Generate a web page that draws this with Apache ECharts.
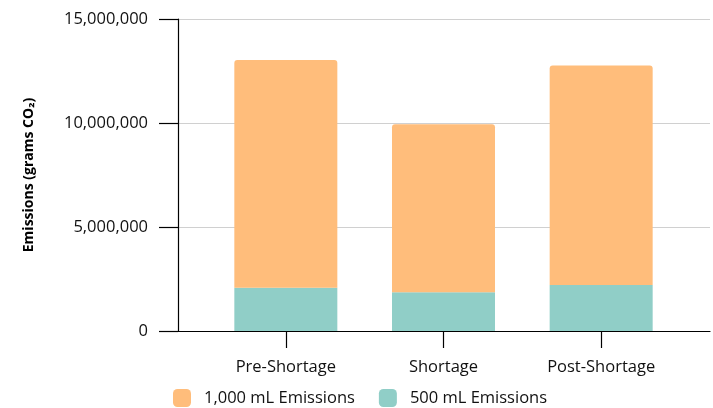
<!DOCTYPE html>
<html>
<head>
<meta charset="utf-8">
<script src="https://cdn.jsdelivr.net/npm/echarts@6/dist/echarts.min.js"></script>
<style>
  html, body { margin: 0; padding: 0; background: #fff; }
  #chart { width: 713px; height: 408px; }
</style>
</head>
<body>
<div id="chart"></div>
<script>
// Stacked emissions per period (grams CO2)
const categories = ['Pre-Shortage', 'Shortage', 'Post-Shortage'];
const emissions500 = [2080000, 1860000, 2210000];
const emissions1000 = [10950000, 8080000, 10550000];
const yTicks = { min: 0, max: 15000000, interval: 5000000 };

const FONT = '"Open Sans", "Noto Sans", sans-serif';
const ORANGE = '#FFBD7B';
const TEAL = '#90CEC7';
const TEXT = '#111';

const chart = echarts.init(document.getElementById('chart'), null, { renderer: 'canvas' });

chart.setOption({
  animation: false,
  backgroundColor: '#ffffff',
  textStyle: { fontFamily: FONT },
  grid: [
    { left: 178, right: 3, top: 19, bottom: 77 },
    { left: 207, right: 33, top: 19, bottom: 77 }
  ],
  legend: {
    left: 168,
    top: 384,
    icon: 'roundRect',
    itemWidth: 18,
    itemHeight: 18,
    itemGap: 24,
    textStyle: { fontFamily: FONT, fontSize: 16.5, color: TEXT, padding: [0, 0, 0, 8] },
    data: ['1,000 mL Emissions', '500 mL Emissions']
  },
  xAxis: [
    {
      gridIndex: 0,
      type: 'category',
      data: categories,
      axisLine: { show: true, lineStyle: { color: '#000', width: 1.2 } },
      axisTick: { show: false },
      axisLabel: { show: false },
      splitLine: { show: false }
    },
    {
      gridIndex: 1,
      type: 'category',
      data: categories,
      axisLine: { show: false },
      axisTick: { show: true, alignWithLabel: true, length: 17, lineStyle: { color: '#000', width: 1.2 } },
      axisLabel: { fontFamily: FONT, fontSize: 16.5, color: TEXT, margin: 28 }
    }
  ],
  yAxis: [
    {
      gridIndex: 0,
      type: 'value',
      min: yTicks.min,
      max: yTicks.max,
      interval: yTicks.interval,
      name: 'Emissions (grams CO₂)',
      nameLocation: 'middle',
      nameGap: 142,
      nameTextStyle: { fontFamily: FONT, fontSize: 14, fontWeight: 'bold', color: '#000' },
      axisLine: { show: true, lineStyle: { color: '#000', width: 1.2 } },
      axisTick: { show: true, length: 19, lineStyle: { color: '#000', width: 1.2 } },
      axisLabel: {
        fontFamily: FONT, fontSize: 16.5, color: TEXT, margin: 30,
        formatter: v => v.toLocaleString('en-US')
      },
      splitLine: { show: true, lineStyle: { color: '#d0d0d0', width: 1.2 } }
    },
    {
      gridIndex: 1,
      type: 'value',
      min: yTicks.min,
      max: yTicks.max,
      interval: yTicks.interval,
      show: false,
      splitLine: { show: false }
    }
  ],
  series: [
    {
      name: '500 mL Emissions',
      type: 'bar',
      stack: 'total',
      xAxisIndex: 1,
      yAxisIndex: 1,
      barWidth: 103,
      itemStyle: { color: TEAL },
      data: emissions500
    },
    {
      name: '1,000 mL Emissions',
      type: 'bar',
      stack: 'total',
      xAxisIndex: 1,
      yAxisIndex: 1,
      barWidth: 103,
      itemStyle: { color: ORANGE, borderRadius: [3, 3, 0, 0] },
      data: emissions1000
    }
  ]
});
</script>
</body>
</html>
